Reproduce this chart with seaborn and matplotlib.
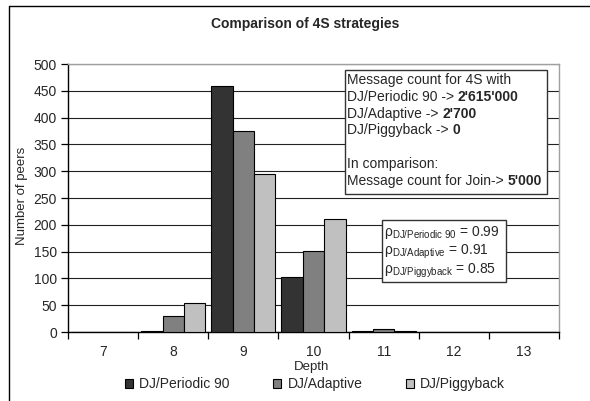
import numpy as np
import pandas as pd
import matplotlib
matplotlib.use("Agg")
import matplotlib.pyplot as plt
from matplotlib.patches import Rectangle, Patch
from matplotlib.lines import Line2D
import seaborn as sns

# ---- data ----
depths = ["7", "8", "9", "10", "11", "12", "13"]
periodic = [0, 1, 459, 102, 1, 0, 0]
adaptive = [0, 30, 375, 151, 6, 0, 0]
piggyback = [0, 55, 295, 210, 1, 0, 0]
series_names = ["DJ/Periodic 90", "DJ/Adaptive", "DJ/Piggyback"]
series_colors = ["#333333", "#808080", "#c0c0c0"]
yticks = list(range(0, 501, 50))

title = "Comparison of 4S strategies"
xlabel = "Depth"
ylabel = "Number of peers"

box1_lines = [
    ("Message count for 4S with", ""),
    ("DJ/Periodic 90 ->", "2'615'000"),
    ("DJ/Adaptive ->", "2'700"),
    ("DJ/Piggyback ->", "0"),
    ("", ""),
    ("In comparison:", ""),
    ("Message count for Join->", "5'000"),
]
rho_names = ["DJ/Periodic\\ 90", "DJ/Adaptive", "DJ/Piggyback"]
rho_values = ["0.99", "0.91", "0.85"]

df = pd.DataFrame({
    "Depth": depths * 3,
    "Peers": periodic + adaptive + piggyback,
    "Strategy": [s for s in series_names for _ in depths],
})

sns.set_style("white")
plt.rcParams["font.family"] = ["Liberation Sans", "DejaVu Sans"]
plt.rcParams["mathtext.fontset"] = "custom"
plt.rcParams["mathtext.rm"] = "Liberation Sans"
plt.rcParams["mathtext.it"] = "Liberation Sans:italic"
plt.rcParams["mathtext.bf"] = "Liberation Sans:bold"

W, H = 590, 401
fig = plt.figure(figsize=(W / 100, H / 100), dpi=100)

def fx(x):
    return x / W

def fy(y):
    return 1 - y / H

L, R, T, B = 68, 559, 64, 332
ax = fig.add_axes([fx(L), fy(B), (R - L) / W, (B - T) / H])

sns.barplot(data=df, x="Depth", y="Peers", hue="Strategy", order=depths,
            hue_order=series_names, palette=series_colors, width=0.914,
            edgecolor="black", linewidth=0.8, saturation=1, ax=ax,
            legend=False, zorder=3)

ax.set_ylim(0, 500)
ax.set_xlim(-0.5, 6.5)
ax.set_yticks(yticks)
ax.set_yticklabels([str(v) for v in yticks], fontsize=10)
ax.set_xticks(np.arange(-0.5, 7, 1))
ax.set_xticklabels([""] * 8)
ax.set_xticks(np.arange(0, 7), minor=True)
ax.set_xticklabels(depths, minor=True, fontsize=10)
ax.tick_params(axis="x", which="major", length=5, width=0.9, color="black", direction="out", bottom=True)
ax.tick_params(axis="x", which="minor", length=0, pad=9.5, bottom=True)
ax.tick_params(axis="y", length=5, width=0.9, color="black", direction="out", pad=3, left=True)
ax.set_xlabel("")
ax.set_ylabel("")
ax.yaxis.grid(True, color="#222222", linewidth=0.8, zorder=0)
ax.xaxis.grid(False)
ax.set_axisbelow(True)
for side in ["left", "bottom"]:
    ax.spines[side].set_color("black")
    ax.spines[side].set_linewidth(1.0)
for side in ["top", "right"]:
    ax.spines[side].set_color("#a0a0a0")
    ax.spines[side].set_linewidth(1.0)

# titles and labels
fig.text(fx(305), fy(24), title, ha="center", va="center", fontsize=10, fontweight="bold")
fig.text(fx(312), fy(367), xlabel, ha="center", va="center", fontsize=9.5)
fig.text(fx(22), fy(196), ylabel, ha="center", va="center", rotation=90, fontsize=9.5)

# figure border (top and left only visible)
fig.add_artist(Line2D([fx(8.5), fx(8.5)], [fy(5.5), fy(H + 5)], color="black", lw=1.0,
                      transform=fig.transFigure))
fig.add_artist(Line2D([fx(8.5), fx(W + 5)], [fy(5.5), fy(5.5)], color="black", lw=1.0,
                      transform=fig.transFigure))

# legend
handles = [Patch(facecolor=c, edgecolor="black", linewidth=0.8) for c in series_colors]
fig.legend(handles, series_names, loc="center", bbox_to_anchor=(fx(315), fy(384)),
           ncol=3, frameon=False, fontsize=10, handlelength=0.6, handleheight=0.6,
           handletextpad=0.45, columnspacing=3.1, borderpad=0, borderaxespad=0)

# text box 1
fig.add_artist(Rectangle((fx(345), fy(194)), (547 - 345) / W, (194 - 70) / H,
                         transform=fig.transFigure, facecolor="white",
                         edgecolor="#333333", linewidth=1.0, zorder=5))
for i, (normal, bold) in enumerate(box1_lines):
    yc = 80 + i * 16.8
    if not normal:
        continue
    t = fig.text(fx(347), fy(yc), normal, ha="left", va="center", fontsize=10, zorder=6)
    if bold:
        fig.add_artist(plt.Annotation(bold, xy=(1, 0), xycoords=t, xytext=(2.8, 0),
                                      textcoords="offset points", ha="left", va="bottom",
                                      fontsize=10, fontweight="bold", zorder=6))

# text box 2 (correlation)
fig.add_artist(Rectangle((fx(382), fy(282)), (506 - 382) / W, (282 - 220) / H,
                         transform=fig.transFigure, facecolor="white",
                         edgecolor="#333333", linewidth=1.0, zorder=5))
for i, (nm, val) in enumerate(zip(rho_names, rho_values)):
    yc = 232 + i * 19.5
    fig.text(fx(384), fy(yc), r"$\mathrm{\rho}_{\mathrm{" + nm + r"}}$ = " + val,
             ha="left", va="center", fontsize=10, zorder=6)

fig.savefig("out.png", dpi=100)
